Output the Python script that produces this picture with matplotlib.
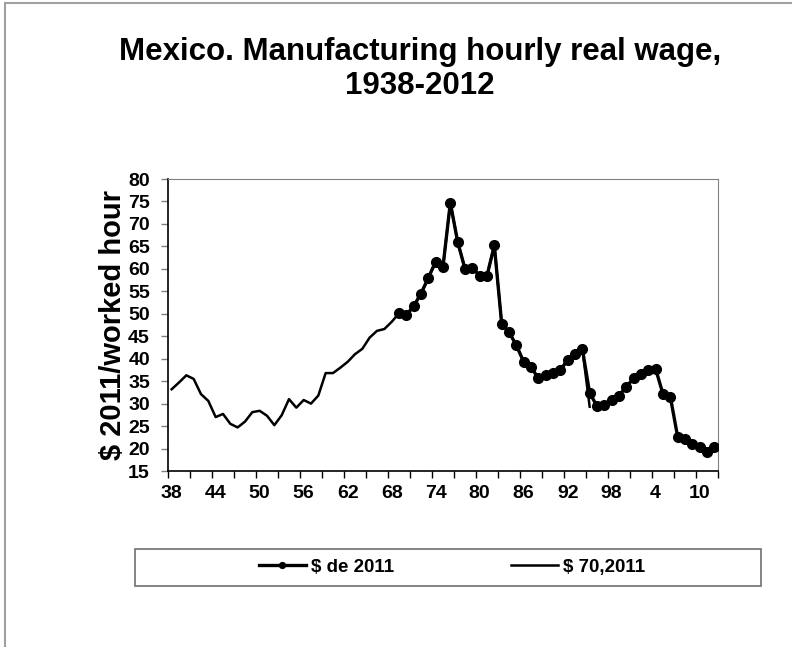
import matplotlib
matplotlib.use("Agg")
import matplotlib.pyplot as plt
from matplotlib.patches import Rectangle
from matplotlib.ticker import FixedLocator, NullFormatter

plt.rcParams['font.family'] = ['Liberation Sans', 'DejaVu Sans']
plt.rcParams['font.weight'] = 'bold'

# $ 70,2011 series (1938-1995)
years_70 = list(range(1938, 1996))
wage_70 = [33.2, 34.7, 36.3, 35.5, 32.1, 30.6, 27.0, 27.7, 25.5, 24.7,
           26.0, 28.1, 28.4, 27.3, 25.2, 27.4, 31.0, 29.1, 30.8, 30.0,
           31.8, 36.8, 36.8, 38.0, 39.3, 41.0, 42.2, 44.7, 46.2, 46.6,
           48.2, 50.1, 49.7, 51.7, 54.5, 58.0, 61.6, 60.5, 74.7, 66.0,
           60.0, 60.2, 58.5, 58.5, 65.2, 47.8, 45.9, 43.0, 39.3, 38.2,
           35.6, 36.4, 36.8, 37.5, 39.7, 41.0, 42.2, 29.3]

# $ de 2011 series (1969-2012)
years_2011 = list(range(1969, 2013))
wage_2011 = [50.1, 49.7, 51.7, 54.5, 58.0, 61.6, 60.5, 74.7, 66.0, 60.0,
             60.2, 58.5, 58.5, 65.2, 47.8, 45.9, 43.0, 39.3, 38.2, 35.6,
             36.4, 36.8, 37.5, 39.7, 41.0, 42.2, 32.3, 29.5, 29.8, 30.8,
             31.8, 33.8, 35.6, 36.6, 37.5, 37.7, 32.1, 31.5, 22.6, 22.1,
             20.9, 20.4, 19.3, 20.4]

label_years = list(range(1938, 2013, 6))
label_text = [str(y % 100) for y in label_years]
y_ticks = list(range(15, 81, 5))

W, H = 792, 647
fig = plt.figure(figsize=(W / 100, H / 100), dpi=100)

# outer chart border
fig.patches.append(Rectangle((5 / W, -0.1), 1.2, 1.1 - 3 / H,
                             transform=fig.transFigure, fill=False,
                             edgecolor='#a0a0a0', linewidth=1.5))

ax = fig.add_axes([168 / W, 1 - 471 / H, 550 / W, 292 / H])

ax.plot(years_70, wage_70, color='black', linewidth=1.8, label='$ 70,2011', zorder=2)
ax.plot(years_2011, wage_2011, color='black', linewidth=2.4, marker='o',
        markersize=7, label='$ de 2011', zorder=3)

ax.set_xlim(1937.5, 2012.5)
ax.set_ylim(15, 80)
ax.set_yticks(y_ticks)
ax.set_xticks(label_years)
ax.set_xticklabels(label_text)
ax.xaxis.set_minor_locator(FixedLocator([1937.5 + 3 * k for k in range(26)]))
ax.xaxis.set_minor_formatter(NullFormatter())
ax.tick_params(axis='x', which='major', length=0, pad=10, labelsize=14)
ax.tick_params(axis='x', which='minor', length=5, width=1, color='black')
ax.tick_params(axis='y', length=5, width=1, color='#808080', labelsize=14, pad=8)
for lab in ax.get_xticklabels() + ax.get_yticklabels():
    lab.set_fontweight('bold')

for side in ('top', 'right'):
    ax.spines[side].set_color('#808080')
for side in ('left', 'bottom'):
    ax.spines[side].set_color('black')
    ax.spines[side].set_linewidth(1.2)

ax.set_ylabel('$ 2011/worked hour', fontsize=21, fontweight='bold', labelpad=1)

fig.text(420 / W, 1 - 69 / H, 'Mexico. Manufacturing hourly real wage,\n1938-2012',
         ha='center', va='center', fontsize=22.5, fontweight='bold', linespacing=1.15)

# legend box
fig.patches.append(Rectangle((135 / W, 1 - 586 / H), 626 / W, 37 / H,
                             transform=fig.transFigure, fill=False,
                             edgecolor='#707070', linewidth=1.2))
handles, labels = ax.get_legend_handles_labels()
leg = fig.legend(handles[::-1], labels[::-1], loc='center',
                 bbox_to_anchor=(452 / W, 1 - 567 / H), ncol=2, frameon=False,
                 fontsize=13.5, handlelength=2.5, handletextpad=0.3,
                 columnspacing=6.2, markerscale=0.6)
for t in leg.get_texts():
    t.set_fontweight('bold')

fig.savefig('out.png', dpi=100)
